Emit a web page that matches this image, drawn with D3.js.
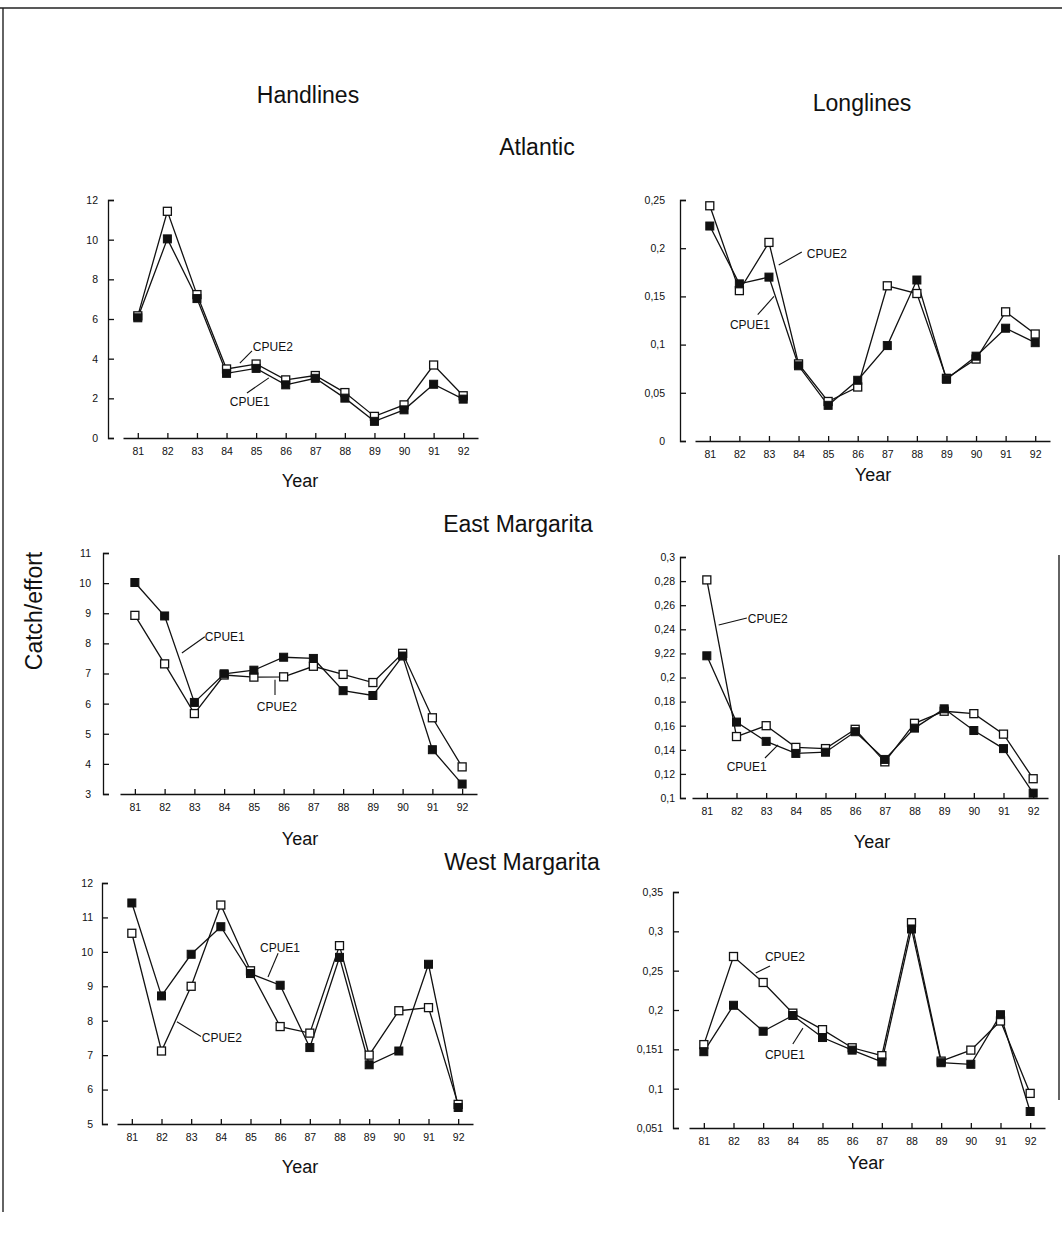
<!DOCTYPE html>
<html>
<head>
<meta charset="utf-8">
<script src="https://cdn.jsdelivr.net/npm/d3@7"></script>
<style>
  html, body { margin: 0; padding: 0; background: #fff; }
  svg { display: block; }
  text { font-family: "Liberation Sans", Arial, Helvetica, sans-serif; fill: #111; }
</style>
</head>
<body>
<svg id="chart" width="1062" height="1252"></svg>
<script>
// ---------------- DATA ----------------
const years = [81, 82, 83, 84, 85, 86, 87, 88, 89, 90, 91, 92];
const yearLabels = ["81", "82", "83", "84", "85", "86", "87", "88", "89", "90", "91", "92"];

// Atlantic - Handlines
const atlHandCPUE1 = [6.06, 10.04, 7.03, 3.26, 3.51, 2.68, 3.01, 2.01, 0.84, 1.42, 2.71, 1.96];
const atlHandCPUE2 = [6.16, 11.43, 7.23, 3.48, 3.73, 2.93, 3.15, 2.29, 1.09, 1.67, 3.68, 2.13];
const atlHandTicks = [0, 2, 4, 6, 8, 10, 12];
const atlHandTickLabels = ["0", "2", "4", "6", "8", "10", "12"];

// Atlantic - Longlines
const atlLongCPUE1 = [0.223, 0.163, 0.170, 0.078, 0.037, 0.063, 0.099, 0.167, 0.064, 0.088, 0.117, 0.102];
const atlLongCPUE2 = [0.244, 0.156, 0.206, 0.080, 0.041, 0.056, 0.161, 0.153, 0.065, 0.085, 0.134, 0.111];
const atlLongTicks = [0, 0.05, 0.1, 0.15, 0.2, 0.25];
const atlLongTickLabels = ["0", "0,05", "0,1", "0,15", "0,2", "0,25"];

// East Margarita - Handlines
const eastHandCPUE1 = [10.02, 8.91, 6.04, 6.99, 7.11, 7.54, 7.50, 6.43, 6.27, 7.58, 4.47, 3.33];
const eastHandCPUE2 = [8.93, 7.32, 5.67, 6.95, 6.88, 6.89, 7.24, 6.97, 6.70, 7.67, 5.53, 3.90];
const eastHandTicks = [3, 4, 5, 6, 7, 8, 9, 10, 11];
const eastHandTickLabels = ["3", "4", "5", "6", "7", "8", "9", "10", "11"];

// East Margarita - Longlines
const eastLongCPUE1 = [0.218, 0.163, 0.147, 0.137, 0.138, 0.155, 0.132, 0.158, 0.174, 0.156, 0.141, 0.104];
const eastLongCPUE2 = [0.281, 0.151, 0.160, 0.142, 0.141, 0.157, 0.130, 0.162, 0.172, 0.170, 0.153, 0.116];
const eastLongTicks = [0.1, 0.12, 0.14, 0.16, 0.18, 0.2, 0.22, 0.24, 0.26, 0.28, 0.3];
const eastLongTickLabels = ["0,1", "0,12", "0,14", "0,16", "0,18", "0,2", "9,22", "0,24", "0,26", "0,28", "0,3"];

// West Margarita - Handlines
const westHandCPUE1 = [11.42, 8.72, 9.93, 10.73, 9.37, 9.03, 7.22, 9.84, 6.72, 7.12, 9.64, 5.48];
const westHandCPUE2 = [10.54, 7.12, 9.00, 11.36, 9.45, 7.83, 7.64, 10.18, 7.00, 8.29, 8.38, 5.57];
const westHandTicks = [5, 6, 7, 8, 9, 10, 11, 12];
const westHandTickLabels = ["5", "6", "7", "8", "9", "10", "11", "12"];

// West Margarita - Longlines
const westLongCPUE1 = [0.147, 0.206, 0.173, 0.193, 0.165, 0.149, 0.134, 0.303, 0.133, 0.131, 0.194, 0.071];
const westLongCPUE2 = [0.156, 0.268, 0.235, 0.196, 0.175, 0.152, 0.142, 0.311, 0.135, 0.149, 0.186, 0.094];
const westLongTicks = [0.05, 0.1, 0.15, 0.2, 0.25, 0.3, 0.35];
const westLongTickLabels = ["0,051", "0,1", "0,151", "0,2", "0,25", "0,3", "0,35"];

// Series annotations (anchored in data units: year, value)
const atlHandNotes = [
  { text: "CPUE2", x: 84.89, y: 4.39, line: [[84.45, 3.78], [84.86, 4.39]] },
  { text: "CPUE1", x: 84.11, y: 1.61, line: [[84.69, 2.27], [85.43, 3.03]] }
];
const atlLongNotes = [
  { text: "CPUE2", x: 84.28, y: 0.190, line: [[83.33, 0.1826], [84.11, 0.196]] },
  { text: "CPUE1", x: 81.68, y: 0.116, line: [[82.62, 0.131], [83.17, 0.150]] }
];
const eastHandNotes = [
  { text: "CPUE1", x: 83.35, y: 8.08, line: [[82.58, 7.68], [83.35, 8.22]] },
  { text: "CPUE2", x: 85.10, y: 5.76, line: [[85.71, 6.79], [85.71, 6.29]] }
];
const eastLongNotes = [
  { text: "CPUE2", x: 82.38, y: 0.245, line: [[81.40, 0.2436], [82.35, 0.2494]] },
  { text: "CPUE1", x: 81.67, y: 0.1224, line: [[82.96, 0.1332], [83.40, 0.144]] }
];
const westHandNotes = [
  { text: "CPUE1", x: 85.32, y: 9.99, line: [[85.59, 9.27], [85.93, 9.96]] },
  { text: "CPUE2", x: 83.36, y: 7.39, line: [[82.52, 7.97], [83.33, 7.54]] }
];
const westLongNotes = [
  { text: "CPUE2", x: 83.06, y: 0.262, line: [[82.75, 0.2469], [83.23, 0.256]] },
  { text: "CPUE1", x: 83.06, y: 0.1377, line: [[84.00, 0.1568], [84.34, 0.177]] }
];

const titles = [
  { text: "Handlines", x: 308, y: 103 },
  { text: "Longlines", x: 862, y: 111 },
  { text: "Atlantic", x: 537, y: 155 },
  { text: "East Margarita", x: 518, y: 532 },
  { text: "West Margarita", x: 522, y: 870 }
];

// ---------------- LAYOUT ----------------
const panels = [
  { c1: atlHandCPUE1, c2: atlHandCPUE2, ticks: atlHandTicks, labels: atlHandTickLabels, notes: atlHandNotes,
    yDomain: [0, 12], axisX: 108, yRange: [438, 200], xRange: [123, 478], yPad: 10, yearY: 487, yearX: 300 },
  { c1: atlLongCPUE1, c2: atlLongCPUE2, ticks: atlLongTicks, labels: atlLongTickLabels, notes: atlLongNotes,
    yDomain: [0, 0.25], axisX: 680, yRange: [441, 200], xRange: [695, 1050], yPad: 15, yearY: 481, yearX: 873 },
  { c1: eastHandCPUE1, c2: eastHandCPUE2, ticks: eastHandTicks, labels: eastHandTickLabels, notes: eastHandNotes,
    yDomain: [3, 11], axisX: 103, yRange: [794, 553], xRange: [120, 477], yPad: 12, yearY: 845, yearX: 300 },
  { c1: eastLongCPUE1, c2: eastLongCPUE2, ticks: eastLongTicks, labels: eastLongTickLabels, notes: eastLongNotes,
    yDomain: [0.1, 0.3], axisX: 680, yRange: [798, 557], xRange: [692, 1048], yPad: 5, yearY: 848, yearX: 872 },
  { c1: westHandCPUE1, c2: westHandCPUE2, ticks: westHandTicks, labels: westHandTickLabels, notes: westHandNotes,
    yDomain: [5, 12], axisX: 102, yRange: [1124, 883], xRange: [117, 473], yPad: 9, yearY: 1173, yearX: 300 },
  { c1: westLongCPUE1, c2: westLongCPUE2, ticks: westLongTicks, labels: westLongTickLabels, notes: westLongNotes,
    yDomain: [0.05, 0.35], axisX: 673, yRange: [1128, 892], xRange: [689, 1045], yPad: 10, yearY: 1169, yearX: 866 }
];

const svg = d3.select("#chart");

// page frame (scanned border)
const frame = svg.append("g").attr("stroke", "#222").attr("stroke-width", 1.4).attr("fill", "none");
frame.append("line").attr("x1", 0).attr("y1", 8).attr("x2", 1062).attr("y2", 8);
frame.append("line").attr("x1", 3).attr("y1", 8).attr("x2", 3).attr("y2", 1212);
frame.append("line").attr("x1", 1059).attr("y1", 555).attr("x2", 1059).attr("y2", 1100);

// titles
svg.append("g").selectAll("text").data(titles).join("text")
  .attr("x", d => d.x).attr("y", d => d.y)
  .attr("text-anchor", "middle").attr("font-size", 23)
  .text(d => d.text);

svg.append("text")
  .attr("transform", "translate(42,611) rotate(-90)")
  .attr("text-anchor", "middle").attr("font-size", 23)
  .text("Catch/effort");

const markerSize = 8;

panels.forEach(p => {
  const x = d3.scaleLinear().domain([80.5, 92.5]).range(p.xRange);
  const y = d3.scaleLinear().domain(p.yDomain).range(p.yRange);
  const g = svg.append("g");

  // y axis (ticks pointing inward)
  const yAxis = d3.axisLeft(y).tickValues(p.ticks)
    .tickFormat((d, i) => p.labels[i])
    .tickSize(-6).tickSizeOuter(-6).tickPadding(p.yPad);
  const ya = g.append("g").attr("transform", `translate(${p.axisX},0)`).call(yAxis);
  ya.selectAll("text").attr("font-size", 10.5).attr("font-family", "'Liberation Sans', Arial, sans-serif").attr("fill", "#111");
  ya.selectAll("path,line").attr("stroke", "#111").attr("stroke-width", 1.3);

  // x axis (ticks pointing upward)
  const xAxis = d3.axisBottom(x).tickValues(years)
    .tickFormat((d, i) => yearLabels[i])
    .tickSize(-5).tickSizeOuter(0).tickPadding(10);
  const xa = g.append("g").attr("transform", `translate(0,${p.yRange[0]})`).call(xAxis);
  xa.selectAll("text").attr("font-size", 10.5).attr("font-family", "'Liberation Sans', Arial, sans-serif").attr("fill", "#111");
  xa.selectAll("path,line").attr("stroke", "#111").attr("stroke-width", 1.3);

  // Year label
  g.append("text").attr("x", p.yearX).attr("y", p.yearY)
    .attr("text-anchor", "middle").attr("font-size", 18).text("Year");

  const line = d3.line().x((d, i) => x(years[i])).y(d => y(d));
  [p.c2, p.c1].forEach(s => {
    g.append("path").datum(s).attr("d", line)
      .attr("fill", "none").attr("stroke", "#111").attr("stroke-width", 1.3);
  });

  // open squares: CPUE2
  g.append("g").selectAll("rect").data(p.c2).join("rect")
    .attr("x", (d, i) => x(years[i]) - markerSize / 2)
    .attr("y", d => y(d) - markerSize / 2)
    .attr("width", markerSize).attr("height", markerSize)
    .attr("fill", "#fff").attr("stroke", "#111").attr("stroke-width", 1.3);
  // filled squares: CPUE1
  g.append("g").selectAll("rect").data(p.c1).join("rect")
    .attr("x", (d, i) => x(years[i]) - markerSize / 2)
    .attr("y", d => y(d) - markerSize / 2)
    .attr("width", markerSize).attr("height", markerSize)
    .attr("fill", "#111").attr("stroke", "#111").attr("stroke-width", 1);

  // annotations
  p.notes.forEach(n => {
    g.append("line")
      .attr("x1", x(n.line[0][0])).attr("y1", y(n.line[0][1]))
      .attr("x2", x(n.line[1][0])).attr("y2", y(n.line[1][1]))
      .attr("stroke", "#111").attr("stroke-width", 1.1);
    g.append("text").attr("x", x(n.x)).attr("y", y(n.y))
      .attr("font-size", 12).text(n.text);
  });
});
</script>
</body>
</html>
